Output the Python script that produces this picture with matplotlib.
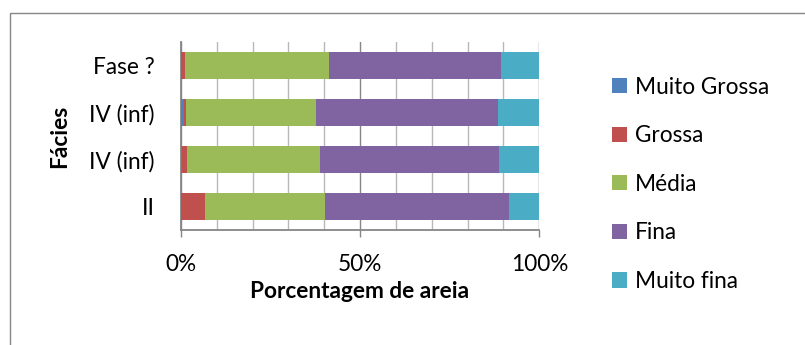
import matplotlib
matplotlib.use("Agg")
import matplotlib.pyplot as plt
from matplotlib.patches import Rectangle
import numpy as np

plt.rcParams["font.family"] = ["Lato", "DejaVu Sans"]

categorias = ["II", "IV (inf)", "IV (inf)", "Fase ?"]
series = ["Muito Grossa", "Grossa", "Média", "Fina", "Muito fina"]
muito_grossa = [0.0, 0.4, 0.7, 0.0]
grossa = [6.8, 1.3, 0.7, 1.2]
media = [33.3, 37.2, 36.3, 40.0]
fina = [51.5, 49.9, 50.8, 48.1]
muito_fina = [8.4, 11.2, 11.5, 10.7]
cores = ["#4F81BD", "#C0504D", "#9BBB59", "#8064A2", "#4BACC6"]

W, H = 805, 345
fig = plt.figure(figsize=(W / 100, H / 100), dpi=100)
ax = fig.add_axes([181 / W, 1 - 230 / H, 358.3 / W, 188 / H])

dados = np.array([muito_grossa, grossa, media, fina, muito_fina])
frac = dados / dados.sum(axis=0)
y = np.arange(len(categorias))
esq = np.zeros(len(categorias))
handles = []
for i, nome in enumerate(series):
    b = ax.barh(y, frac[i], 0.57, left=esq, color=cores[i], label=nome, zorder=3)
    handles.append(b)
    esq += frac[i]

ax.set_xlim(0, 1)
ax.set_ylim(-0.5, 3.5)
ax.set_yticks(y)
ax.set_yticklabels(categorias)
ax.set_xticks([0, 0.5, 1])
ax.set_xticklabels(["0%", "50%", "100%"])
ax.set_xticks(np.arange(0.1, 1.0, 0.1), minor=True)
ax.set_axisbelow(True)
ax.grid(axis="x", which="major", color="#868686", lw=1.0)
ax.grid(axis="x", which="minor", color="#b8b8b8", lw=1.0)
ax.tick_params(axis="x", which="major", length=5, width=1.0, color="#868686",
               labelsize=16.3, pad=12)
ax.tick_params(axis="x", which="minor", length=0)
ax.tick_params(axis="y", length=0, labelsize=16.3, pad=19)
for s in ["top", "right"]:
    ax.spines[s].set_visible(False)
for s in ["left", "bottom"]:
    ax.spines[s].set_color("#868686")
    ax.spines[s].set_linewidth(1.3)

fig.text(60 / W, 1 - 136 / H, "Fácies", rotation=90, ha="center", va="center",
         fontsize=16.3, fontweight="bold")
fig.text(360 / W, 1 - 292 / H, "Porcentagem de areia", ha="center", va="center",
         fontsize=16.3, fontweight="bold")

fig.legend(handles, series, loc="upper left",
           bbox_to_anchor=(612 / W, 1 - 76.5 / H), frameon=False,
           fontsize=16.3, handlelength=0.65, handleheight=0.65,
           handletextpad=0.35, labelspacing=1.22, borderpad=0, borderaxespad=0)

fig.add_artist(Rectangle((9.5 / W, -0.1), 1.2, (H - 13.5) / H + 0.1,
                         transform=fig.transFigure, fill=False,
                         edgecolor="#868686", lw=1.0))

fig.savefig("out.png", dpi=100)
